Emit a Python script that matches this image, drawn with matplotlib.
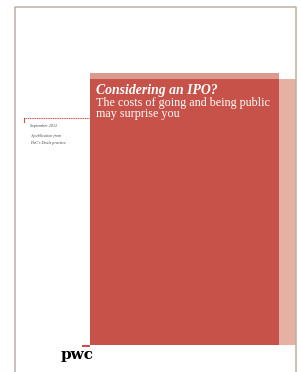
import matplotlib
matplotlib.use("Agg")
import matplotlib.pyplot as plt
from matplotlib.patches import Rectangle

# cover texts
title = "Considering an IPO?"
subtitle = ["The costs of going and being public", "may surprise you"]
side_notes = ["September 2012", "A publication from", "PwC's Deals practice"]
logo = "pwc"

red = "#C75249"
red_top = "#DC9A8C"
red_side = "#E4B1A3"
frame = "#BDB0A8"

fig = plt.figure(figsize=(3.01, 3.72), dpi=100)
ax = fig.add_axes([0, 0, 1, 1])
ax.set_xlim(0, 301)
ax.set_ylim(372, 0)
ax.axis("off")

# page frame
ax.plot([14.5, 14.5, 296, 296], [372, 6.5, 6.5, 372], color=frame, lw=1.1)

# red block with light edges
ax.add_patch(Rectangle((90, 73), 189, 6, color=red_top, lw=0))
ax.add_patch(Rectangle((279, 79), 17, 266, color=red_side, lw=0))
ax.add_patch(Rectangle((90, 79), 189, 266, color=red, lw=0))
ax.add_patch(Rectangle((82, 345), 8, 2, color=red, lw=0))

# dotted rule on the left
ax.plot([24, 90], [117.5, 117.5], color=red, lw=0.8, ls=(0, (1, 0.6)))
ax.plot([24.3, 24.3], [117.5, 121.5], color=red, lw=0.8)

ax.text(96, 94, title, color="white", fontsize=9.9, fontweight="bold",
        fontstyle="italic", family="Liberation Serif", va="baseline")
for i, s in enumerate(subtitle):
    ax.text(96, 106 + i * 11.5, s, color="white", fontsize=8.7,
            family="Liberation Serif", va="baseline")

ypos = [127, 137, 144]
for y, s in zip(ypos, side_notes):
    ax.text(30, y, s, color="#444444", fontsize=3.0, fontstyle="italic",
            family="Liberation Serif", va="baseline")

ax.text(61, 359, logo, color="black", fontsize=11, fontweight="bold",
        family="DejaVu Serif", va="baseline")

fig.savefig("out.png", dpi=100)
